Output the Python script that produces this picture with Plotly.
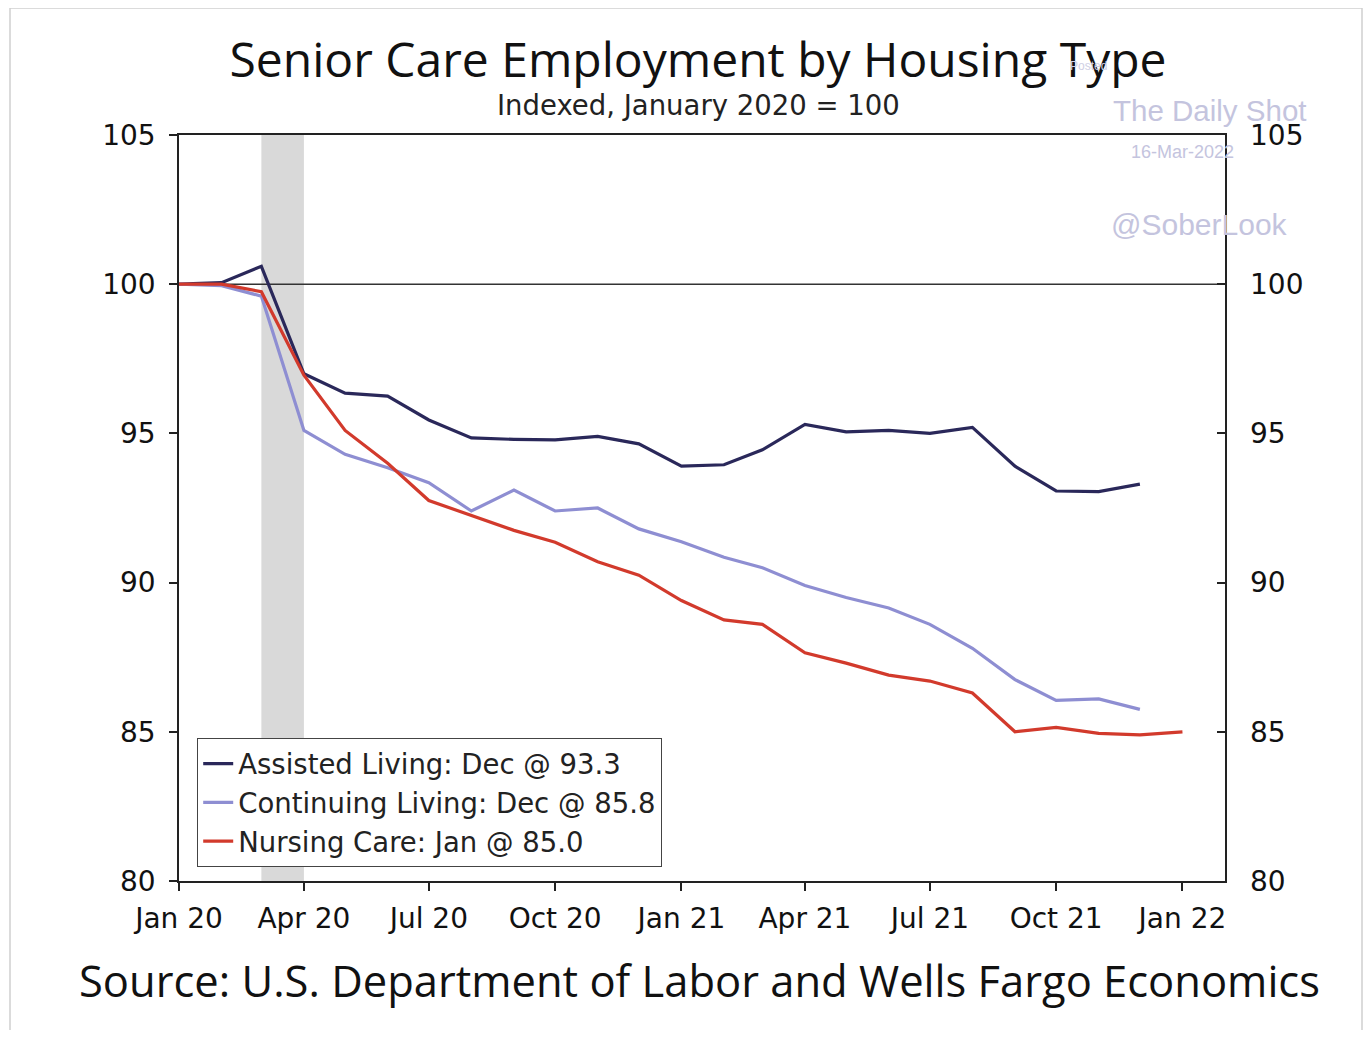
import plotly.graph_objects as go

months = ["2020-01-01", "2020-02-01", "2020-03-01", "2020-04-01", "2020-05-01", "2020-06-01",
          "2020-07-01", "2020-08-01", "2020-09-01", "2020-10-01", "2020-11-01", "2020-12-01",
          "2021-01-01", "2021-02-01", "2021-03-01", "2021-04-01", "2021-05-01", "2021-06-01",
          "2021-07-01", "2021-08-01", "2021-09-01", "2021-10-01", "2021-11-01", "2021-12-01",
          "2022-01-01"]

assisted_living = [100.0, 100.05, 100.6, 97.0, 96.35, 96.25, 95.45, 94.85, 94.8, 94.78, 94.9, 94.65,
                   93.9, 93.95, 94.45, 95.3, 95.05, 95.1, 95.0, 95.2, 93.9, 93.07, 93.05, 93.3]
continuing_living = [100.0, 99.95, 99.6, 95.1, 94.3, 93.85, 93.35, 92.4, 93.1, 92.4, 92.5, 91.8,
                     91.37, 90.85, 90.5, 89.9, 89.5, 89.15, 88.6, 87.8, 86.75, 86.05, 86.1, 85.75]
nursing_care = [100.0, 100.0, 99.75, 96.95, 95.1, 94.0, 92.75, 92.25, 91.75, 91.35, 90.7, 90.25,
                89.4, 88.75, 88.6, 87.65, 87.3, 86.9, 86.7, 86.3, 85.0, 85.15, 84.95, 84.9, 85.0]

series_names = ["Assisted Living: Dec @ 93.3", "Continuing Living: Dec @ 85.8", "Nursing Care: Jan @ 85.0"]
series_colors = ["#2a285a", "#8e8ed2", "#d23a2c"]

x_tick_vals = ["2020-01-01", "2020-04-01", "2020-07-01", "2020-10-01", "2021-01-01",
               "2021-04-01", "2021-07-01", "2021-10-01", "2022-01-01"]
x_tick_text = ["Jan 20", "Apr 20", "Jul 20", "Oct 20", "Jan 21", "Apr 21", "Jul 21", "Oct 21", "Jan 22"]
y_ticks = [80, 85, 90, 95, 100, 105]

recession_start, recession_end = "2020-03-01", "2020-04-01"

# page offset (body margin) compensation
OFF = 8
W, H = 1371 - 2 * OFF, 1038 - 2 * OFF
PL, PR, PT, PB = 179, 1225, 135, 881  # plot area in page pixels

fig = go.Figure()
for name, ys, col in zip(series_names, [assisted_living, continuing_living, nursing_care], series_colors):
    fig.add_trace(go.Scatter(x=months[:len(ys)], y=ys, name=name, mode="lines",
                             line=dict(color=col, width=3.2)))

# invisible trace for right axis
fig.add_trace(go.Scatter(x=[months[0]], y=[100], yaxis="y2", showlegend=False,
                         mode="markers", marker=dict(opacity=0), hoverinfo="skip"))

tickfont = dict(family="DejaVu Sans, Verdana, sans-serif", size=28, color="#111")

fig.update_layout(
    width=W, height=H,
    margin=dict(l=PL - OFF, r=W - (PR - OFF), t=PT - OFF, b=H - (PB - OFF)),
    paper_bgcolor="white", plot_bgcolor="white",
    showlegend=True,
    legend=dict(x=(197 - PL) / (PR - PL), y=(PB - 867) / (PB - PT), xanchor="left", yanchor="bottom",
                bgcolor="white", bordercolor="#444", borderwidth=1.2,
                font=dict(family="DejaVu Sans, Verdana, sans-serif", size=27.5, color="#222"),
                tracegroupgap=0, itemwidth=30),
    xaxis=dict(type="date", range=["2020-01-01", "2022-02-01"], tickmode="array",
               tickvals=x_tick_vals, ticktext=x_tick_text, showgrid=False, zeroline=False,
               showline=True, linecolor="#222", linewidth=1.5, mirror=True,
               ticks="outside", ticklen=8, tickcolor="#222", tickwidth=1.5,
               ticklabelstandoff=4, tickfont=tickfont),
    yaxis=dict(range=[80, 105], tickmode="array", tickvals=y_ticks, showgrid=False,
               zeroline=False, showline=True, linecolor="#222", linewidth=1.5, mirror=True,
               ticks="outside", ticklen=8, tickcolor="#222", tickwidth=1.5,
               ticklabelstandoff=8, tickfont=tickfont),
    yaxis2=dict(range=[80, 105], overlaying="y", side="right", tickmode="array",
                tickvals=y_ticks, showgrid=False, zeroline=False, showline=False,
                ticks="inside", ticklen=8, tickcolor="#222", tickwidth=1.5,
                ticklabelstandoff=24, tickfont=tickfont),
    title=dict(text="Senior Care Employment by Housing Type", x=(698 - OFF) / W, xanchor="center",
               y=1 - (60 - OFF) / H, yanchor="middle", yref="container",
               font=dict(family="Open Sans, sans-serif", size=48, color="#111")),
)

def px(xp, yp):
    return (xp - PL) / (PR - PL), (PB - yp) / (PB - PT)

# recession shading
fig.add_shape(type="rect", xref="x", yref="paper", x0=recession_start, x1=recession_end,
              y0=0, y1=1, fillcolor="#d9d9d9", line=dict(width=0), layer="below")
# 100 reference line
fig.add_shape(type="line", xref="paper", yref="y", x0=0, x1=1, y0=100, y1=100,
              line=dict(color="#333", width=1.5), layer="below")
# outer border
bx0, by0 = px(10, 1036)
bx1, by1 = px(1362, 8)
fig.add_shape(type="rect", xref="paper", yref="paper", x0=bx0, x1=bx1, y0=by0, y1=by1,
              line=dict(color="#d0d0d0", width=1.5), fillcolor="rgba(0,0,0,0)")

annots = [
    ("Indexed, January 2020 = 100", 698, 105, dict(family="DejaVu Sans, Verdana, sans-serif", size=27.5, color="#222")),
    ("Source: U.S. Department of Labor and Wells Fargo Economics", 699, 980, dict(family="Open Sans, sans-serif", size=43.5, color="#111")),
    ("The Daily Shot", 1209, 110, dict(family="Liberation Sans, Arial, sans-serif", size=29.5, color="#c4c4de")),
    ("16-Mar-2022", 1182, 152, dict(family="Liberation Sans, Arial, sans-serif", size=18, color="#c4c4de")),
    ("@SoberLook", 1199, 225, dict(family="Liberation Sans, Arial, sans-serif", size=30, color="#c4c4de")),
    ("Posted", 1088, 66, dict(family="Liberation Sans, Arial, sans-serif", size=12, color="#d0d0e4")),
]
for text, xp, yp, f in annots:
    ax_, ay_ = px(xp, yp)
    fig.add_annotation(text=text, x=ax_, y=ay_, xref="paper", yref="paper", showarrow=False,
                       xanchor="center", yanchor="middle", font=f)

fig.write_html("out.html")
